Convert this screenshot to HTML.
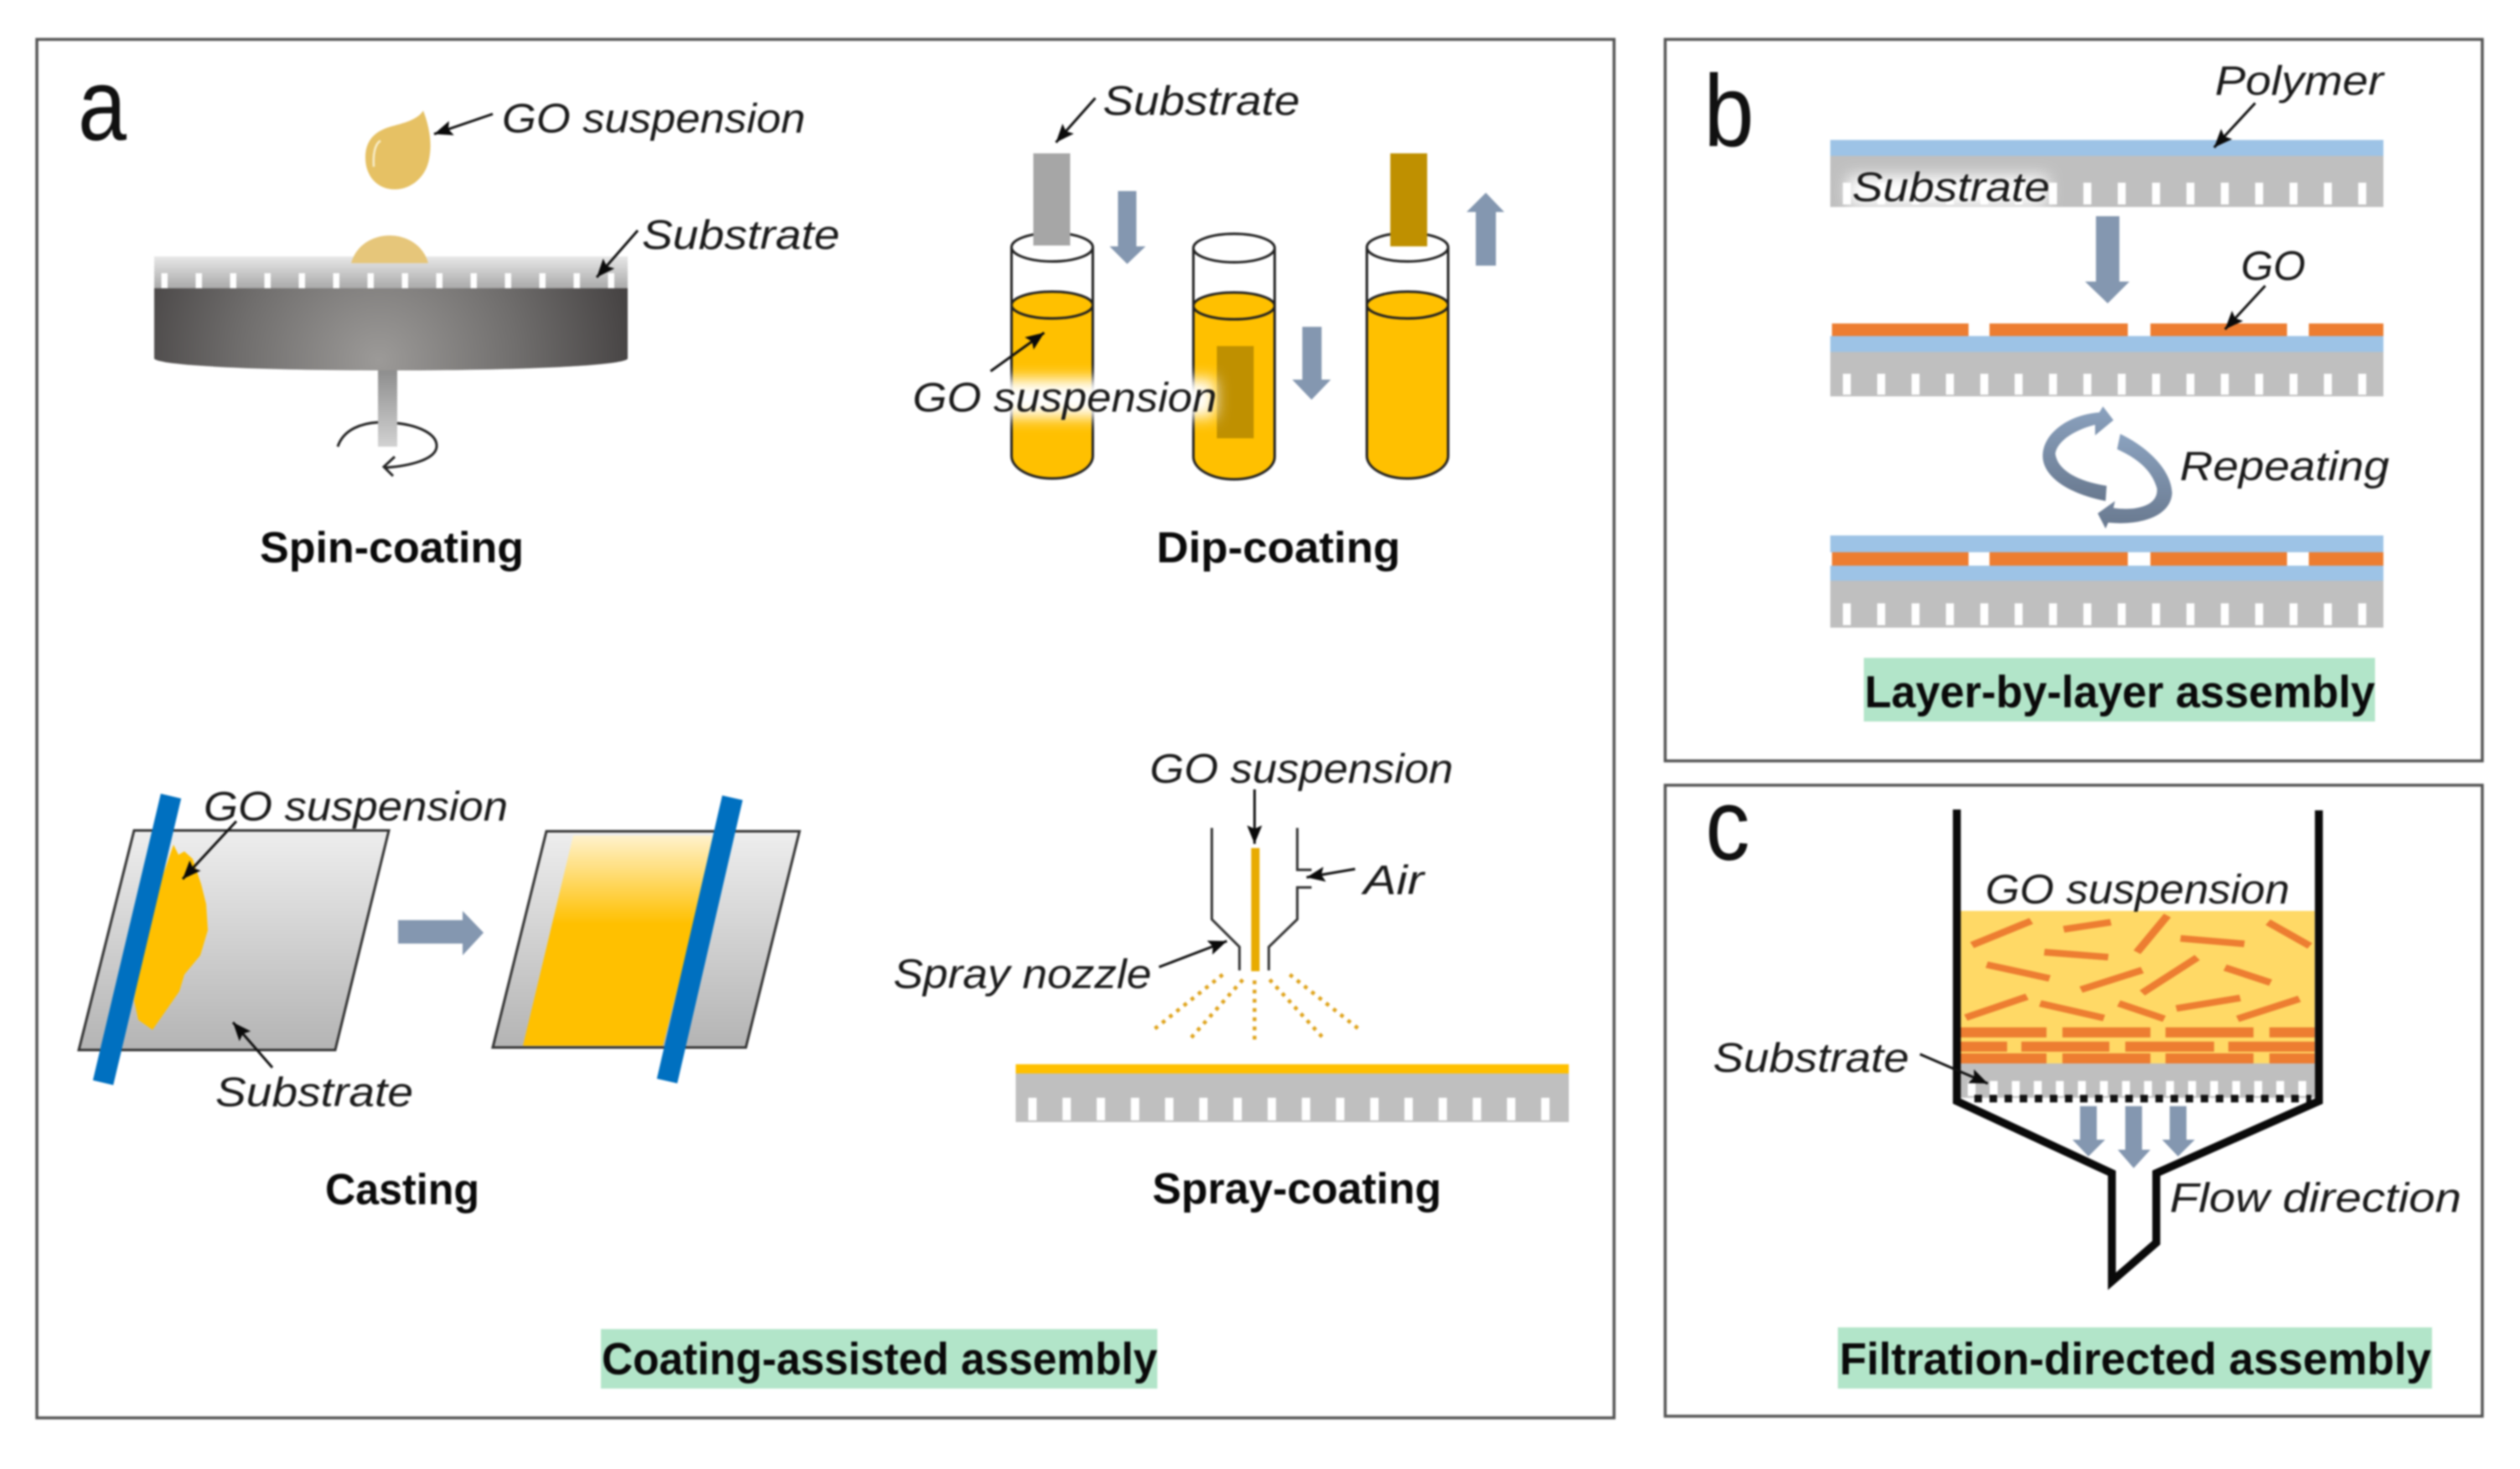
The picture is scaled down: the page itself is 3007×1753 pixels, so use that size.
<!DOCTYPE html>
<html>
<head>
<meta charset="utf-8">
<style>
html,body{margin:0;padding:0;background:#fff;width:3007px;height:1753px;overflow:hidden}
svg{display:block;filter:blur(1.1px)}
text{font-family:"Liberation Sans",sans-serif;fill:#111}
.i{font-style:italic;font-size:49px;fill:#1a1a1a}
.b{font-weight:bold;font-size:52px;fill:#0a0a0a}
.g{font-weight:bold;font-size:54px;fill:#0a0a0a}
.l{font-size:122px;fill:#111}
.ar{stroke:#111;stroke-width:3;fill:none;marker-end:url(#ah)}
.t{stroke:#fff;fill:none}
</style>
</head>
<body>
<svg width="3007" height="1753" viewBox="0 0 3007 1753" xmlns="http://www.w3.org/2000/svg">
<defs>
<marker id="ah" markerUnits="userSpaceOnUse" markerWidth="24" markerHeight="20" refX="22" refY="10" orient="auto">
<path d="M0,1 L22,10 L0,19 L4,10 Z" fill="#0a0a0a"/>
</marker>
<linearGradient id="subG" x1="0" y1="0" x2="0" y2="1"><stop offset="0" stop-color="#e8e8e8"/><stop offset="1" stop-color="#a8a8a8"/></linearGradient>
<radialGradient id="disc" gradientUnits="userSpaceOnUse" cx="452" cy="430" r="300"><stop offset="0" stop-color="#9c9a98"/><stop offset=".55" stop-color="#706e6d"/><stop offset="1" stop-color="#474444"/></radialGradient>
<linearGradient id="shaft" x1="0" y1="0" x2="0" y2="1"><stop offset="0" stop-color="#8e8e8e"/><stop offset="1" stop-color="#d2d2d2"/></linearGradient>
<linearGradient id="plate" x1="0" y1="0" x2="0" y2="1"><stop offset="0" stop-color="#eeeeee"/><stop offset="1" stop-color="#b4b4b4"/></linearGradient>
<linearGradient id="film" x1="0" y1="0" x2="0" y2="1"><stop offset="0" stop-color="#fff2cc"/><stop offset=".42" stop-color="#ffc000"/><stop offset="1" stop-color="#ffc000"/></linearGradient>
<linearGradient id="cyc" x1="0" y1="0" x2="0" y2="1"><stop offset="0" stop-color="#8ba2bf"/><stop offset="1" stop-color="#69798f"/></linearGradient>
<filter id="gl" x="-20%" y="-60%" width="140%" height="220%"><feGaussianBlur stdDeviation="9"/></filter>
<g id="tube">
<path d="M0,69 V249 A48.5,27 0 0 0 97,249 V69 Z" fill="#ffc000"/>
<ellipse cx="48.5" cy="69" rx="48.5" ry="16" fill="#ffc000" stroke="#222" stroke-width="3"/>
<ellipse cx="48.5" cy="0" rx="48.5" ry="17" fill="#fff" stroke="#222" stroke-width="3"/>
<path d="M0,0 V249 A48.5,27 0 0 0 97,249 V0" fill="none" stroke="#222" stroke-width="3"/>
</g>
</defs>
<rect width="3007" height="1753" fill="#fff"/>

<!-- panels -->
<rect x="44" y="47" width="1882" height="1645" fill="#fff" stroke="#555" stroke-width="3.5"/>
<rect x="1987" y="47" width="975" height="861" fill="#fff" stroke="#555" stroke-width="3.5"/>
<rect x="1987" y="937" width="975" height="753" fill="#fff" stroke="#555" stroke-width="3.5"/>

<text class="l" x="93" y="167" textLength="58" lengthAdjust="spacingAndGlyphs">a</text>
<text class="l" x="2033" y="174" textLength="60" lengthAdjust="spacingAndGlyphs">b</text>
<text class="l" x="2035" y="1026" textLength="53" lengthAdjust="spacingAndGlyphs">c</text>

<!-- spin coating -->
<path d="M505,132 C512,150 516,170 512,190 C508,212 490,226 471,226 C450,226 436,210 436,188 C436,165 450,155 470,150 C490,145 500,140 505,132 Z" fill="#e6c164"/>
<path d="M454,168 C447,172 445,185 446,199" stroke="#f8eecb" stroke-width="2.5" fill="none"/>
<rect x="184" y="306" width="565" height="39" fill="url(#subG)"/>
<line class="t" x1="192.5" y1="335" x2="735" y2="335" stroke-width="18" stroke-dasharray="7.5 33.5"/>
<path d="M419,314 C425,292 445,281 465,281 C485,281 505,292 511,314 Z" fill="#e6c67a"/>
<path d="M184,344 H749 V428 C745,436 630,442 466,442 C300,442 190,436 184,428 Z" fill="url(#disc)"/>
<rect x="451" y="442" width="23" height="91" fill="url(#shaft)"/>
<path d="M403,533 C410,512 432,505 451,504 M474,505 C500,508 522,518 521,533 C520,548 490,556 460,558 M471,545 L458,557 L469,568" stroke="#222" stroke-width="3" fill="none"/>
<line class="ar" x1="588" y1="136" x2="518" y2="160"/>
<line class="ar" x1="761" y1="275" x2="712" y2="331"/>
<text class="i" x="599" y="158" textLength="362" lengthAdjust="spacingAndGlyphs">GO suspension</text>
<text class="i" x="766" y="297" textLength="236" lengthAdjust="spacingAndGlyphs">Substrate</text>
<text class="b" x="310" y="671" textLength="315" lengthAdjust="spacingAndGlyphs">Spin-coating</text>

<!-- dip coating -->
<use href="#tube" x="1207" y="295"/>
<use href="#tube" x="1424" y="296"/>
<use href="#tube" x="1631" y="295"/>
<rect x="1233" y="183" width="44" height="110" fill="#a6a6a6"/>
<rect x="1659" y="183" width="44" height="111" fill="#bf9000"/>
<rect x="1452" y="413" width="44" height="110" fill="#bf9000"/>
<path d="M1334,228 H1356 V294 H1367 L1345,315 L1324,294 H1334 Z" fill="#8497b0"/>
<path d="M1554,390 H1577 V453 H1588 L1565,477 L1542,453 H1554 Z" fill="#8497b0"/>
<path d="M1761,317 H1785 V253 H1795 L1773,230 L1750,253 H1761 Z" fill="#8497b0"/>
<rect x="1150" y="452" width="300" height="46" fill="#fff" filter="url(#gl)"/>
<line class="ar" x1="1307" y1="117" x2="1260" y2="170"/>
<line class="ar" x1="1182" y1="443" x2="1246" y2="397"/>
<text class="i" x="1316" y="137" textLength="235" lengthAdjust="spacingAndGlyphs">Substrate</text>
<text class="i" x="1089" y="491" textLength="363" lengthAdjust="spacingAndGlyphs">GO suspension</text>
<text class="b" x="1380" y="671" textLength="291" lengthAdjust="spacingAndGlyphs">Dip-coating</text>

<!-- casting -->
<path d="M160,991 H464 L400,1253 H94 Z" fill="url(#plate)" stroke="#333" stroke-width="3"/>
<path d="M207,1008 L213,1020 L220,1016 L230,1025 L240,1055 L246,1079 L248,1110 L239,1140 L220,1163 L214,1183 L182,1229 L165,1217 L160,1194 L175,1100 Z" fill="#ffc000"/>
<line x1="204" y1="950" x2="123" y2="1292" stroke="#0070c0" stroke-width="25"/>
<path d="M652,992 H954 L890,1250 H588 Z" fill="url(#plate)" stroke="#333" stroke-width="3"/>
<path d="M684,997 H855 L791,1248 H624 Z" fill="url(#film)"/>
<line x1="874" y1="952" x2="796" y2="1290" stroke="#0070c0" stroke-width="25"/>
<path d="M475,1098 H552 V1087 L577,1113 L552,1140 V1126 H475 Z" fill="#8497b0"/>
<line class="ar" x1="282" y1="980" x2="218" y2="1049"/>
<line class="ar" x1="325" y1="1274" x2="278" y2="1220"/>
<text class="i" x="243" y="979" textLength="363" lengthAdjust="spacingAndGlyphs">GO suspension</text>
<text class="i" x="257" y="1320" textLength="236" lengthAdjust="spacingAndGlyphs">Substrate</text>
<text class="b" x="388" y="1437" textLength="184" lengthAdjust="spacingAndGlyphs">Casting</text>

<!-- spray coating -->
<path d="M1446,988 V1097 L1479,1130 V1158 M1548,988 V1038 H1565 M1565,1059 H1548 V1097 L1514,1130 V1158" fill="none" stroke="#333" stroke-width="3"/>
<rect x="1493" y="1012" width="10" height="147" fill="#e8ab00"/>
<g stroke="#dfa31c" stroke-width="4.5" stroke-dasharray="4.5 6.5" fill="none">
<line x1="1459" y1="1163" x2="1375" y2="1230"/>
<line x1="1483" y1="1169" x2="1419" y2="1241"/>
<line x1="1497" y1="1170" x2="1497" y2="1247"/>
<line x1="1515" y1="1169" x2="1581" y2="1241"/>
<line x1="1539" y1="1163" x2="1624" y2="1230"/>
</g>
<rect x="1212" y="1270" width="660" height="11" fill="#ffc000"/>
<rect x="1212" y="1281" width="660" height="58" fill="#bfbfbf"/>
<line class="t" x1="1227" y1="1323.5" x2="1852" y2="1323.5" stroke-width="27" stroke-dasharray="10 30.8"/>
<line class="ar" x1="1497" y1="942" x2="1497" y2="1007"/>
<line class="ar" x1="1617" y1="1037" x2="1559" y2="1047"/>
<line class="ar" x1="1383" y1="1154" x2="1464" y2="1123"/>
<text class="i" x="1372" y="934" textLength="362" lengthAdjust="spacingAndGlyphs">GO suspension</text>
<text class="i" x="1627" y="1067" textLength="72" lengthAdjust="spacingAndGlyphs">Air</text>
<text class="i" x="1066" y="1179" textLength="308" lengthAdjust="spacingAndGlyphs">Spray nozzle</text>
<text class="b" x="1375" y="1436" textLength="345" lengthAdjust="spacingAndGlyphs">Spray-coating</text>

<!-- a label -->
<rect x="717" y="1586" width="664" height="71" fill="#b2e5c9"/>
<text class="g" x="718" y="1640" textLength="663" lengthAdjust="spacingAndGlyphs">Coating-assisted assembly</text>

<!-- panel b -->
<rect x="2184" y="167" width="660" height="19" fill="#9dc3e6"/>
<rect x="2184" y="186" width="660" height="61" fill="#bfbfbf"/>
<line class="t" x1="2199" y1="231" x2="2825" y2="231" stroke-width="26" stroke-dasharray="9.5 31.5"/>
<rect x="2205" y="210" width="238" height="36" fill="#fff" filter="url(#gl)"/>
<path d="M2501,258 H2529 V336 H2541 L2515,362 L2488,336 H2501 Z" fill="#8497b0"/>

<path d="M2186,386 H2349 V401 H2186 Z M2374,386 H2539 V401 H2374 Z M2566,386 H2729 V401 H2566 Z M2755,386 H2844 V401 H2755 Z" fill="#ed7d31"/>
<rect x="2184" y="401" width="660" height="19" fill="#9dc3e6"/>
<rect x="2184" y="420" width="660" height="53" fill="#bfbfbf"/>
<line class="t" x1="2199" y1="458.5" x2="2825" y2="458.5" stroke-width="25" stroke-dasharray="9.5 31.5"/>

<g transform="translate(2000,40) scale(.625,.548)" fill="url(#cyc)">
<path d="M820,1018 C740,1000 700,960 700,920 C700,870 750,830 808,825 L815,812 L835,842 L800,875 L800,852 C765,862 728,885 724,915 C728,950 765,975 822,985 Z"/>
<path d="M848,872 C900,900 945,950 947,1000 C945,1050 890,1072 825,1065 L820,1078 L805,1045 L838,1018 L835,1033 C875,1040 922,1030 918,990 C908,950 880,925 842,905 Z"/>
</g>

<rect x="2184" y="639" width="660" height="20" fill="#9dc3e6"/>
<path d="M2186,659 H2349 V675 H2186 Z M2374,659 H2539 V675 H2374 Z M2566,659 H2729 V675 H2566 Z M2755,659 H2844 V675 H2755 Z" fill="#ed7d31"/>
<rect x="2184" y="675" width="660" height="18" fill="#9dc3e6"/>
<rect x="2184" y="693" width="660" height="56" fill="#bfbfbf"/>
<line class="t" x1="2199" y1="733" x2="2825" y2="733" stroke-width="26" stroke-dasharray="9.5 31.5"/>

<line class="ar" x1="2691" y1="123" x2="2642" y2="176"/>
<line class="ar" x1="2703" y1="341" x2="2655" y2="393"/>
<text class="i" x="2643" y="113" textLength="201" lengthAdjust="spacingAndGlyphs">Polymer</text>
<text class="i" x="2210" y="240" textLength="236" lengthAdjust="spacingAndGlyphs">Substrate</text>
<text class="i" x="2674" y="334" textLength="77" lengthAdjust="spacingAndGlyphs">GO</text>
<text class="i" x="2601" y="573" textLength="250" lengthAdjust="spacingAndGlyphs">Repeating</text>
<rect x="2224" y="785" width="610" height="76" fill="#b2e5c9"/>
<text class="g" x="2225" y="844" textLength="609" lengthAdjust="spacingAndGlyphs">Layer-by-layer assembly</text>

<!-- panel c -->
<rect x="2339" y="1087" width="423" height="182" fill="#ffd966"/>
<g transform="translate(2000,930) scale(.625,.497)" stroke="#ed7d31" stroke-width="16" fill="none">
<line x1="565" y1="398" x2="678" y2="340"/>
<line x1="740" y1="360" x2="830" y2="343"/>
<line x1="880" y1="415" x2="938" y2="327"/>
<line x1="963" y1="382" x2="1085" y2="395"/>
<line x1="1130" y1="343" x2="1210" y2="400"/>
<line x1="703" y1="415" x2="825" y2="427"/>
<line x1="593" y1="445" x2="713" y2="478"/>
<line x1="773" y1="505" x2="890" y2="458"/>
<line x1="890" y1="513" x2="995" y2="428"/>
<line x1="1048" y1="452" x2="1135" y2="488"/>
<line x1="553" y1="572" x2="670" y2="522"/>
<line x1="695" y1="538" x2="817" y2="573"/>
<line x1="845" y1="538" x2="932" y2="575"/>
<line x1="955" y1="550" x2="1077" y2="525"/>
<line x1="1072" y1="575" x2="1190" y2="527"/>
</g>
<path d="M2339,1226 H2442 V1238 H2339 Z M2461,1226 H2566 V1238 H2461 Z M2584,1226 H2689 V1238 H2584 Z M2708,1226 H2762 V1238 H2708 Z
M2339,1243 H2395 V1255 H2339 Z M2412,1243 H2517 V1255 H2412 Z M2536,1243 H2642 V1255 H2536 Z M2659,1243 H2762 V1255 H2659 Z
M2339,1257 H2442 V1269 H2339 Z M2461,1257 H2566 V1269 H2461 Z M2584,1257 H2689 V1269 H2584 Z M2708,1257 H2762 V1269 H2708 Z" fill="#ed7d31"/>
<rect x="2339" y="1269" width="423" height="41" fill="#bfbfbf"/>
<line class="t" x1="2348" y1="1299" x2="2755" y2="1299" stroke-width="18" stroke-dasharray="9.4 16.9"/>
<line x1="2356" y1="1311" x2="2758" y2="1311" stroke="#111" stroke-width="9" stroke-dasharray="9 9"/>
<path d="M2482,1320 H2502 V1360 H2512 L2492,1380 L2473,1360 H2482 Z M2536,1320 H2556 V1372 H2566 L2546,1394 L2527,1372 H2536 Z M2589,1320 H2609 V1360 H2619 L2599,1380 L2580,1360 H2589 Z" fill="#8497b0"/>
<path d="M2335,966 V1314 L2520,1400 V1529 L2573,1483 V1400 L2767,1314 V967" fill="none" stroke="#0a0a0a" stroke-width="9.5"/>
<line class="ar" x1="2291" y1="1258" x2="2372" y2="1293"/>
<text class="i" x="2369" y="1078" textLength="363" lengthAdjust="spacingAndGlyphs">GO suspension</text>
<text class="i" x="2044" y="1279" textLength="234" lengthAdjust="spacingAndGlyphs">Substrate</text>
<text class="i" x="2589" y="1446" textLength="348" lengthAdjust="spacingAndGlyphs">Flow direction</text>
<rect x="2193" y="1584" width="709" height="73" fill="#b2e5c9"/>
<text class="g" x="2195" y="1640" textLength="706" lengthAdjust="spacingAndGlyphs">Filtration-directed assembly</text>
</svg>
</body>
</html>
